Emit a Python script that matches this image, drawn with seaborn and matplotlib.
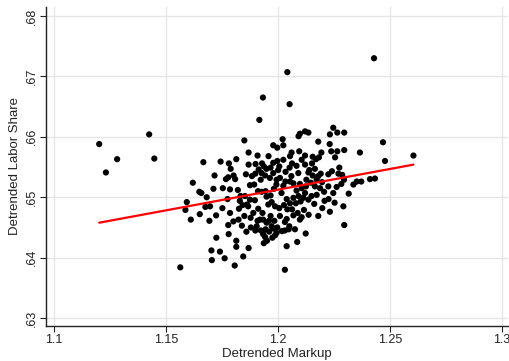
import numpy as np
import pandas as pd
import seaborn as sns
import matplotlib
matplotlib.use("Agg")
import matplotlib.pyplot as plt
from matplotlib.ticker import FuncFormatter

sns.set_theme(style="white")
plt.rcParams['font.family'] = ['Liberation Sans', 'DejaVu Sans']

# detrended markup (x) and labor share (y)
markup = [
    1.1202, 1.1232, 1.1282, 1.1425, 1.1448, 1.1564, 1.2429, 1.2042, 1.1933, 1.2052,
    1.1917, 1.2031, 1.2605, 1.2469, 1.2478, 1.2366, 1.2372, 1.2411, 1.2433, 1.2316,
    1.2296, 1.2292, 1.2296, 1.2247, 1.2265, 1.2232, 1.2296, 1.2265, 1.2231, 1.2180,
    1.2121, 1.2136, 1.2092, 1.2098, 1.2061, 1.1997, 1.1979, 1.2021, 1.2024, 1.1997,
    1.1850, 1.1869, 1.1909, 1.1929, 1.1814, 1.1781, 1.1789, 1.1778, 1.1768, 1.1744,
    1.1667, 1.1620, 1.1593, 1.1587, 1.1611, 1.1649, 1.1658, 1.1682, 1.1651, 1.1676,
    1.1697, 1.1694, 1.1712, 1.1717, 1.1754, 1.1724, 1.1752, 1.1725, 1.1703, 1.1705,
    1.1741, 1.1762, 1.1778, 1.1780, 1.1807, 1.1814, 1.1814, 1.1845, 1.1869, 1.1859,
    1.1879, 1.1826, 1.1830, 1.1821, 1.1809, 1.1802, 1.1857, 1.1875, 1.1884, 1.1869,
    1.1900, 1.1894, 1.1911, 1.1927, 1.1945, 1.1862, 1.1842, 1.1878, 1.1899, 1.1909,
    1.1924, 1.1934, 1.1943, 1.1937, 1.1951, 1.1945, 1.1960, 1.1987, 1.1997, 1.2018,
    1.2031, 1.2048, 1.2039, 1.2086, 1.2076, 1.2124, 1.2098, 1.2106, 1.2116, 1.2137,
    1.2162, 1.2180, 1.2198, 1.2232, 1.2208, 1.2226, 1.2253, 1.2247, 1.2262, 1.2283,
    1.2287, 1.2295, 1.2270, 1.2241, 1.2225, 1.2255, 1.2238, 1.2194, 1.2183, 1.2170,
    1.2155, 1.2152, 1.2136, 1.2165, 1.2191, 1.2197, 1.2180, 1.2147, 1.2127, 1.2098,
    1.2083, 1.2069, 1.2091, 1.2060, 1.2052, 1.2063, 1.2034, 1.2001, 1.1979, 1.1964,
    1.1943, 1.1927, 1.1923, 1.1914, 1.1899, 1.1993, 1.2024, 1.1982, 1.1967, 1.1949,
    1.2016, 1.2039, 1.2054, 1.2042, 1.2027, 1.2006, 1.1987, 1.1972, 1.1957, 1.1967,
    1.1984, 1.2009, 1.2031, 1.2063, 1.2069, 1.2088, 1.2101, 1.2113, 1.2136, 1.2121,
    1.2150, 1.2173, 1.2188, 1.2206, 1.2225, 1.2165, 1.2069, 1.2054, 1.2033, 1.2009,
    1.1994, 1.1967, 1.1949, 1.1937, 1.1897, 1.1912, 1.1931, 1.1920, 1.1905, 1.1890,
    1.1867, 1.1850, 1.1839, 1.1824, 1.1801, 1.1786, 1.1875, 1.1853, 1.1833, 1.1786,
    1.1775, 1.1972, 1.1949, 1.1961, 1.1982, 1.1994, 1.1975, 1.1934, 1.2039, 1.2051,
    1.2080, 1.2092, 1.2106, 1.2125, 1.2173, 1.2155, 1.2140, 1.2121, 1.2106, 1.2121,
    1.2083, 1.2054, 1.2024, 1.2006, 1.1979, 1.1958, 1.2337, 1.2352, 1.2274, 1.2095,
]
labor_share = [
    .6588, .6541, .6563, .6604, .6564, .6384, .6730, .6707, .6665, .6654,
    .6628, .6380, .6569, .6591, .6560, .6574, .6526, .6530, .6531, .6506,
    .6454, .6485, .6607, .6615, .6607, .6604, .6578, .6576, .6588, .6592,
    .6609, .6607, .6601, .6605, .6574, .6582, .6586, .6596, .6586, .6560,
    .6594, .6574, .6569, .6556, .6563, .6556, .6547, .6533, .6530, .6559,
    .6558, .6524, .6492, .6479, .6463, .6509, .6507, .6500, .6472, .6484,
    .6485, .6461, .6514, .6536, .6515, .6470, .6482, .6433, .6412, .6396,
    .6410, .6399, .6454, .6439, .6387, .6428, .6418, .6402, .6416, .6443,
    .6450, .6481, .6494, .6512, .6530, .6536, .6538, .6520, .6535, .6554,
    .6555, .6521, .6510, .6509, .6510, .6488, .6487, .6466, .6445, .6461,
    .6445, .6439, .6434, .6424, .6428, .6447, .6461, .6437, .6450, .6444,
    .6445, .6447, .6419, .6426, .6447, .6440, .6463, .6467, .6479, .6471,
    .6489, .6469, .6482, .6476, .6494, .6497, .6491, .6507, .6517, .6522,
    .6537, .6529, .6539, .6543, .6538, .6566, .6576, .6574, .6566, .6563,
    .6567, .6556, .6541, .6547, .6539, .6525, .6535, .6524, .6529, .6522,
    .6511, .6499, .6540, .6535, .6549, .6556, .6542, .6545, .6540, .6532,
    .6536, .6540, .6529, .6546, .6539, .6521, .6519, .6514, .6503, .6501,
    .6507, .6497, .6490, .6480, .6487, .6482, .6485, .6492, .6488, .6469,
    .6461, .6469, .6459, .6480, .6470, .6474, .6493, .6499, .6496, .6507,
    .6502, .6504, .6515, .6509, .6518, .6518, .6523, .6526, .6526, .6532,
    .6529, .6549, .6547, .6551, .6495, .6481, .6474, .6463, .6452, .6474,
    .6485, .6469, .6453, .6463, .6460, .6474, .6496, .6502, .6502, .6513,
    .6497, .6452, .6458, .6443, .6448, .6441, .6433, .6463, .6464, .6452,
    .6490, .6502, .6515, .6518, .6529, .6536, .6545, .6554, .6562, .6569,
    .6552, .6568, .6562, .6551, .6557, .6568, .6521, .6526, .6549, .6576,
]

df = pd.DataFrame({"markup": markup, "labor": labor_share})

# linear fit drawn over the observed range
slope, intercept = np.polyfit(df["markup"], df["labor"], 1)
fit = pd.DataFrame({"markup": [df["markup"].min(), df["markup"].max()]})
fit["labor"] = intercept + slope * fit["markup"]

fig = plt.figure(figsize=(5.1, 3.61), dpi=100)
ax = fig.add_axes([0.090, 0.097, 0.906, 0.884])

sns.scatterplot(data=df, x="markup", y="labor", ax=ax, color="black",
                s=20, edgecolor="none", zorder=3)
sns.lineplot(data=fit, x="markup", y="labor", ax=ax, color="#ff0000",
             linewidth=1.6, zorder=4)

ax.set_xlim(1.0964, 1.3027)
ax.set_ylim(0.6287, 0.6815)
ax.set_xticks([1.1, 1.15, 1.2, 1.25, 1.3])
ax.set_xticklabels(["1.1", "1.15", "1.2", "1.25", "1.3"])
ax.set_yticks([.63, .64, .65, .66, .67, .68])
ax.yaxis.set_major_formatter(FuncFormatter(lambda v, p: ("%.2f" % v).lstrip("0")))
for lab in ax.get_yticklabels():
    lab.set_rotation(90)
    lab.set_va("center")

ax.grid(True, color="#e6e6e6", linewidth=1.0, zorder=0)
ax.set_axisbelow(True)
for side in ["top", "right"]:
    ax.spines[side].set_visible(False)
for side in ["left", "bottom"]:
    ax.spines[side].set_color("#222222")
    ax.spines[side].set_linewidth(1.0)
ax.tick_params(axis="both", direction="out", length=4, width=0.8,
               color="#222222", labelsize=9, labelcolor="#222222", pad=2,
               bottom=True, left=True)

ax.set_xlabel("Detrended Markup", fontsize=9.5, color="#222222", labelpad=1)
ax.set_ylabel("Detrended Labor Share", fontsize=9.5, color="#222222", labelpad=3)

fig.savefig("out.png", dpi=100, facecolor="white")
